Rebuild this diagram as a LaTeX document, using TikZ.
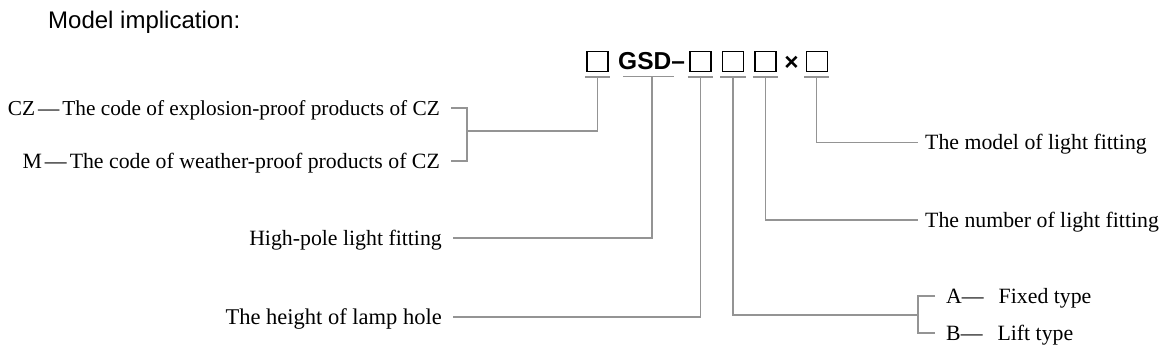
\documentclass[tikz,border=0pt]{standalone}
\usepackage{fontspec}
\setmainfont{Liberation Serif}
\newfontfamily\headfont{Liberation Sans}
\begin{document}
\begin{tikzpicture}[x=1pt,y=-1pt,
    codebox/.style={draw=black, line width=1.1pt, minimum width=21pt, minimum height=19.5pt, inner sep=0pt},
    lead/.style={draw=black!42, line width=1.3pt},
    txt/.style={inner sep=0pt, text height=14pt, text depth=0pt, font=\fontsize{21.8}{26}\selectfont},
    codetxt/.style={inner sep=0pt, font=\headfont\bfseries\fontsize{24.5}{28}\selectfont}]
    \useasboundingbox (0,0) rectangle (1170,360);

    \node[anchor=base west, inner sep=0pt, font=\headfont\fontsize{24}{28}\selectfont] (title) at (48,28) {Model implication:};

    % model code
    \node[codebox] (b1) at (597.5,61.3) {};
    \node[codetxt, anchor=base west] (gsd) at (618,69) {GSD–};
    \node[codebox] (b2) at (700.5,61.3) {};
    \node[codebox] (b3) at (733,61.3) {};
    \node[codebox] (b4) at (765.5,61.3) {};
    \node[codetxt, anchor=base] (times) at (791.5,70) {×};
    \node[codebox] (b5) at (816.7,61.3) {};

    \foreach \n in {b1,b2,b3,b4,b5}
        \draw[lead] ([xshift=-1.5pt,yshift=-5.5pt]\n.south west) -- coordinate (u-\n) ([xshift=1.5pt,yshift=-5.5pt]\n.south east);
    \draw[lead] (623,76.5) -- (674,76.5);
    \coordinate (u-gsd) at (652,76.5);

    % texts
    \node[txt, anchor=east, font=\fontsize{21.3}{26}\selectfont] (cz) at (440,108) {CZ\hspace{3pt}—\hspace{3pt}The code of explosion-proof products of CZ};
    \node[txt, anchor=east] (m) at (440,161) {M\hspace{3pt}—\hspace{3pt}The code of weather-proof products of CZ};
    \node[txt, anchor=east] (hp) at (442,238) {High-pole light fitting};
    \node[txt, anchor=east, font=\fontsize{22.5}{26}\selectfont] (lh) at (442,317) {The height of lamp hole};
    \node[txt, anchor=west] (ml) at (925,142.5) {The model of light fitting};
    \node[txt, anchor=west] (nl) at (925,220) {The number of light fitting};
    \node[txt, anchor=west] (ta) at (946,296) {A—\hspace{15pt}Fixed type};
    \node[txt, anchor=west] (tb) at (946,333) {B—\hspace{15pt}Lift type};

    % leaders
    \coordinate (jl) at (467,131);
    \draw[lead] (u-b1) |- (jl);
    \draw[lead] ([xshift=11pt]cz.east) -| (jl) |- ([xshift=11pt]m.east);
    \draw[lead] (u-gsd) |- ([xshift=11pt]hp.east);
    \draw[lead] (u-b2) |- ([xshift=11pt]lh.east);
    \draw[lead] (u-b5) |- ([xshift=-7pt]ml.west);
    \draw[lead] (u-b4) |- ([xshift=-7pt]nl.west);
    \coordinate (jr) at (918,315);
    \draw[lead] (u-b3) |- (jr);
    \draw[lead] ([xshift=-11pt]ta.west) -| (jr) |- ([xshift=-11pt]tb.west);
\end{tikzpicture}
\end{document}
